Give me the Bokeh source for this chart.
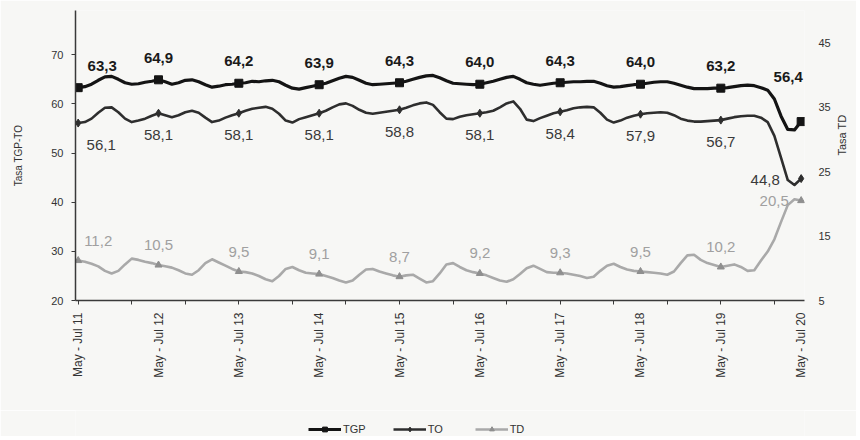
import math
from bokeh.plotting import figure
from bokeh.layouts import column
from bokeh.models import ColumnDataSource, Range1d, LinearAxis, FixedTicker, Legend, LegendItem
from bokeh.core.properties import value
from bokeh.embed import file_html
from bokeh.resources import INLINE

# ---------------- data ----------------
periods = ["May - Jul 11", "May - Jul 12", "May - Jul 13", "May - Jul 14", "May - Jul 15",
           "May - Jul 16", "May - Jul 17", "May - Jul 18", "May - Jul 19", "May - Jul 20"]

# monthly rolling quarters, May-Jul 2011 ... May-Jul 2020
tgp = [63.3, 63.5, 64.0, 64.8, 65.5, 65.6, 65.0, 64.3, 64.0, 64.1, 64.4, 64.6,
       64.9, 64.5, 64.0, 64.3, 64.8, 64.9, 64.5, 63.9, 63.4, 63.6, 63.9, 64.0,
       64.2, 64.3, 64.6, 64.5, 64.7, 64.8, 64.5, 63.8, 63.2, 63.0, 63.3, 63.6,
       63.9, 64.2, 64.7, 65.2, 65.6, 65.4, 64.8, 64.2, 63.9, 64.0, 64.1, 64.2,
       64.3, 64.6, 65.0, 65.4, 65.7, 65.8, 65.3, 64.7, 64.2, 64.1, 64.0, 63.9,
       64.0, 64.3, 64.6, 65.0, 65.4, 65.6, 65.0, 64.3, 64.0, 63.8, 64.0, 64.2,
       64.3, 64.4, 64.5, 64.5, 64.6, 64.6, 64.2, 63.7, 63.4, 63.5, 63.7, 63.9,
       64.0, 64.2, 64.4, 64.5, 64.5, 64.2, 63.8, 63.4, 63.1, 63.1, 63.1, 63.2,
       63.2, 63.3, 63.5, 63.7, 63.8, 63.7, 63.3, 62.8, 61.0, 57.5, 54.8, 54.7,
       56.4]

to = [56.1, 56.3, 57.0, 58.2, 59.2, 59.3, 58.3, 57.0, 56.3, 56.6, 57.0, 57.6,
      58.1, 57.7, 57.3, 57.7, 58.3, 58.6, 58.2, 57.2, 56.3, 56.6, 57.2, 57.7,
      58.1, 58.6, 59.0, 59.2, 59.4, 59.0, 58.0, 56.6, 56.2, 56.9, 57.3, 57.7,
      58.1, 58.6, 59.3, 59.9, 60.1, 59.6, 58.8, 58.2, 58.0, 58.2, 58.4, 58.6,
      58.8, 59.2, 59.7, 60.1, 60.3, 59.8, 58.3, 57.0, 56.9, 57.4, 57.7, 57.9,
      58.1, 58.3, 58.6, 59.3, 60.1, 60.5, 59.0, 56.8, 56.5, 57.1, 57.6, 58.1,
      58.4, 58.7, 59.1, 59.3, 59.4, 59.3, 58.2, 56.8, 56.2, 56.6, 57.2, 57.6,
      57.9, 58.1, 58.2, 58.3, 58.2, 57.7, 57.0, 56.6, 56.4, 56.4, 56.5, 56.6,
      56.7, 57.0, 57.3, 57.5, 57.6, 57.6, 57.2, 56.3, 53.5, 49.0, 44.5, 43.5,
      44.8]

td = [11.2, 11.0, 10.7, 10.3, 9.6, 9.2, 9.6, 10.6, 11.5, 11.3, 11.0, 10.8,
      10.5, 10.3, 10.1, 9.7, 9.2, 9.0, 9.7, 10.8, 11.4, 10.9, 10.4, 9.9,
      9.5, 9.4, 9.2, 8.8, 8.3, 8.0, 8.8, 9.9, 10.2, 9.7, 9.3, 9.2,
      9.1, 8.8, 8.5, 8.1, 7.8, 8.1, 9.0, 9.8, 9.9, 9.5, 9.2, 8.9,
      8.7, 8.9, 9.0, 8.4, 7.8, 8.0, 9.2, 10.6, 10.8, 10.2, 9.7, 9.4,
      9.2, 8.9, 8.5, 8.1, 7.9, 8.3, 9.1, 10.0, 10.4, 9.9, 9.4, 9.3,
      9.3, 9.2, 9.0, 8.8, 8.5, 8.7, 9.6, 10.4, 10.7, 10.2, 9.8, 9.6,
      9.5, 9.4, 9.3, 9.2, 9.0, 9.5, 10.8, 12.0, 12.1, 11.3, 10.8, 10.5,
      10.2, 10.4, 10.6, 10.2, 9.6, 9.7, 11.2, 12.6, 14.5, 17.2, 19.8, 20.7,
      20.5]

left_ticks = [20, 30, 40, 50, 60, 70]
right_ticks = [5, 15, 25, 35, 45]
series_names = ["TGP", "TO", "TD"]

# ---------------- styling ----------------
BG = "#f7f7f5"
C_TGP = "#141414"
C_TO = "#2e2e2e"
C_TD = "#a9a9a9"
C_TD_M = "#8f8f8f"
AX = "#3a3a3a"
FONT = "Liberation Sans"

n = len(tgp)
xs = list(range(n))
label_idx = list(range(0, n, 12))

p = figure(width=856, height=410, output_backend="svg", toolbar_location=None,
           x_range=Range1d(-0.4, 108.5), y_range=Range1d(20, 79),
           min_border_left=75, min_border_right=49, min_border_top=10, min_border_bottom=110,
           background_fill_color=BG, border_fill_color=BG, outline_line_color=None)
p.extra_y_ranges = {"td": Range1d(5, 50)}
p.grid.visible = False

# x axis
xa = p.xaxis[0]
xa.ticker = FixedTicker(ticks=label_idx, minor_ticks=list(range(0, n, 8)))
xa.major_label_overrides = {i: periods[k] for k, i in enumerate(label_idx)}
xa.major_tick_line_color = None
xa.major_tick_out = 0
xa.major_tick_in = 0
xa.minor_tick_line_color = AX
xa.minor_tick_out = 4
xa.minor_tick_in = 0
xa.axis_line_color = AX
xa.axis_line_width = 1.5
xa.major_label_orientation = math.pi / 2
xa.major_label_text_font_size = "12px"
xa.major_label_text_font = FONT
xa.major_label_text_color = "#333333"
xa.major_label_standoff = 8

# left y axis
ya = p.yaxis[0]
ya.ticker = FixedTicker(ticks=left_ticks)
ya.minor_tick_line_color = None
ya.major_tick_out = 4
ya.major_tick_in = 0
ya.major_tick_line_color = AX
ya.axis_line_color = AX
ya.axis_line_width = 1.5
ya.major_label_text_font_size = "11px"
ya.major_label_text_font = FONT
ya.major_label_text_color = "#333333"
ya.major_label_standoff = 8
ya.axis_label = "Tasa TGP-TO"
ya.axis_label_text_font_size = "10px"
ya.axis_label_text_font = FONT
ya.axis_label_text_font_style = "normal"
ya.axis_label_text_color = "#333333"
ya.axis_label_standoff = 24

# right y axis
ra = LinearAxis(y_range_name="td", ticker=FixedTicker(ticks=right_ticks), axis_label="Tasa TD")
ra.axis_line_color = None
ra.major_tick_line_color = None
ra.minor_tick_line_color = None
ra.major_tick_out = 0
ra.major_tick_in = 0
ra.major_label_text_font_size = "11px"
ra.major_label_text_font = FONT
ra.major_label_text_color = "#333333"
ra.major_label_standoff = 14
ra.axis_label_text_font_size = "11px"
ra.axis_label_text_font = FONT
ra.axis_label_text_font_style = "normal"
ra.axis_label_text_color = "#333333"
ra.axis_label_standoff = 8
try:
    ra.axis_label_orientation = math.pi / 2
    ra.axis_label_text_align = "right"
except Exception:
    pass
p.add_layout(ra, "right")

# lines
src = ColumnDataSource(dict(x=xs, tgp=tgp, to=to, td=td))
p.line("x", "tgp", source=src, line_color=C_TGP, line_width=3.2, line_join="round")
p.line("x", "to", source=src, line_color=C_TO, line_width=2.6, line_join="round")
p.line("x", "td", source=src, line_color=C_TD, line_width=2.6, line_join="round",
       y_range_name="td")

# markers at labelled periods
msrc = ColumnDataSource(dict(x=label_idx,
                             tgp=[tgp[i] for i in label_idx],
                             to=[to[i] for i in label_idx],
                             td=[td[i] for i in label_idx]))
p.scatter("x", "tgp", source=msrc, marker="square", size=8, color=C_TGP)
p.scatter("x", "to", source=msrc, marker="diamond", size=8, color=C_TO)
p.scatter("x", "td", source=msrc, marker="triangle", size=7, color=C_TD_M, y_range_name="td")


def fmt(v):
    return f"{v:.1f}".replace(".", ",")


last = len(label_idx) - 1


def offsets(base_dy, first_dx, last_dx, last_dy):
    dx, dy = [], []
    for k in range(len(label_idx)):
        if k == 0:
            dx.append(first_dx); dy.append(base_dy)
        elif k == last:
            dx.append(last_dx); dy.append(last_dy)
        else:
            dx.append(0); dy.append(base_dy)
    return dx, dy


dx1, dy1 = offsets(-22, 24, -13, -45)
dx2, dy2 = offsets(22, 23, -36, 1)
dx3, dy3 = offsets(-20, 20, -27, 0)

lsrc = ColumnDataSource(dict(
    x=label_idx,
    tgp=[tgp[i] for i in label_idx], to=[to[i] for i in label_idx], td=[td[i] for i in label_idx],
    t_tgp=[fmt(tgp[i]) for i in label_idx], t_to=[fmt(to[i]) for i in label_idx],
    t_td=[fmt(td[i]) for i in label_idx],
    dx1=dx1, dy1=dy1, dx2=dx2, dy2=dy2, dx3=dx3, dy3=dy3))

p.text("x", "tgp", text="t_tgp", source=lsrc, x_offset="dx1", y_offset="dy1",
       text_font=value(FONT), text_font_size="15px", text_font_style="bold",
       text_color="#1a1a1a", text_align="center", text_baseline="middle")
p.text("x", "to", text="t_to", source=lsrc, x_offset="dx2", y_offset="dy2",
       text_font=value(FONT), text_font_size="15px",
       text_color="#3a3a3a", text_align="center", text_baseline="middle")
p.text("x", "td", text="t_td", source=lsrc, x_offset="dx3", y_offset="dy3",
       text_font=value(FONT), text_font_size="15px", y_range_name="td",
       text_color="#a0a0a0", text_align="center", text_baseline="middle")

# ---------------- legend strip below ----------------
# the strip's ranges keep the series out of view; only the legend shows
q = figure(width=856, height=26, output_backend="svg", toolbar_location=None,
           x_range=Range1d(0, 1), y_range=Range1d(0, 1),
           x_axis_type=None, y_axis_type=None,
           min_border_left=75, min_border_right=49, min_border_top=0, min_border_bottom=0,
           background_fill_color=BG, border_fill_color=BG, outline_line_color=None)
q.grid.visible = False
l1 = q.line("x", "tgp", source=src, line_color=C_TGP, line_width=3.2)
s1 = q.scatter("x", "tgp", source=msrc, marker="square", size=6, color=C_TGP)
l2 = q.line("x", "to", source=src, line_color=C_TO, line_width=2.6)
s2 = q.scatter("x", "to", source=msrc, marker="diamond", size=6, color=C_TO)
l3 = q.line("x", "td", source=src, line_color=C_TD, line_width=2.6)
s3 = q.scatter("x", "td", source=msrc, marker="triangle", size=6, color=C_TD_M)

legend = Legend(items=[LegendItem(label=series_names[0], renderers=[l1, s1]),
                       LegendItem(label=series_names[1], renderers=[l2, s2]),
                       LegendItem(label=series_names[2], renderers=[l3, s3])],
                location=(233, 1), orientation="horizontal",
                glyph_width=33, glyph_height=12, label_height=12,
                label_text_font_size="11px", label_text_font=FONT, label_text_color="#333333",
                label_standoff=2, spacing=27, padding=0, margin=0,
                border_line_color=None, background_fill_alpha=0)
q.add_layout(legend, "center")

layout = column(p, q, spacing=0)
open("out.html", "w").write(file_html(layout, INLINE))
